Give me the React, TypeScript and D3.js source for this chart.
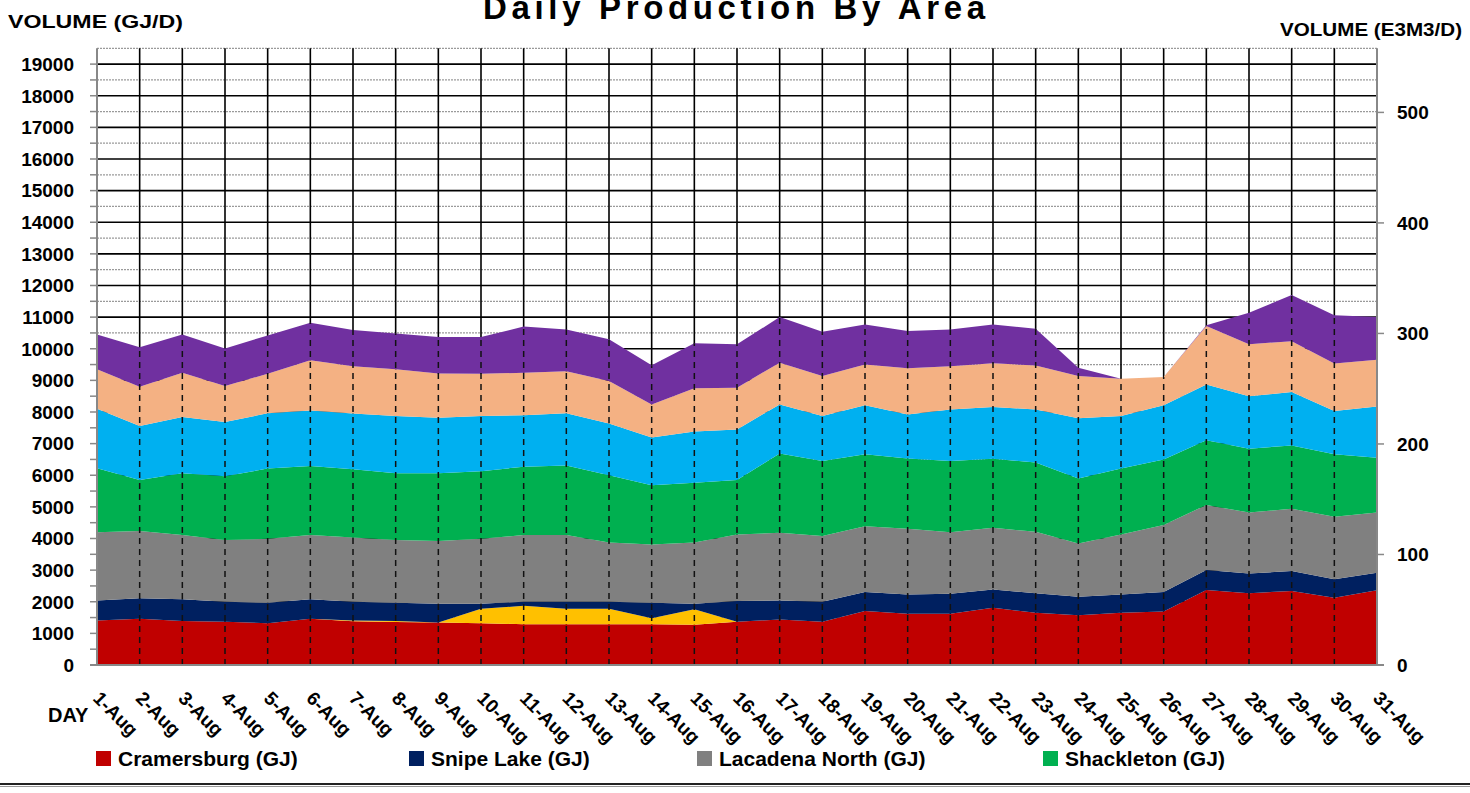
import React from 'react';
import * as d3 from 'd3';

const dayLabels = ['1-Aug','2-Aug','3-Aug','4-Aug','5-Aug','6-Aug','7-Aug','8-Aug','9-Aug','10-Aug','11-Aug','12-Aug','13-Aug','14-Aug','15-Aug','16-Aug','17-Aug','18-Aug','19-Aug','20-Aug','21-Aug','22-Aug','23-Aug','24-Aug','25-Aug','26-Aug','27-Aug','28-Aug','29-Aug','30-Aug','31-Aug'];

const cramersburg = [1410,1460,1390,1370,1320,1460,1380,1360,1340,1320,1290,1290,1290,1290,1270,1370,1440,1370,1710,1620,1620,1810,1650,1570,1650,1690,2370,2270,2340,2130,2360];
const otherYellow = [0,0,0,0,0,0,30,30,0,460,580,490,490,190,490,0,0,0,0,0,0,0,0,0,0,0,0,0,0,0,0];
const snipeLake = [630,650,690,630,650,620,590,580,600,160,130,220,220,490,180,650,600,630,600,610,630,580,620,590,580,620,630,620,630,580,560];
const lacadenaNorth = [2160,2130,2030,1950,2020,2030,2030,1980,1980,2050,2110,2110,1870,1840,1930,2110,2140,2080,2080,2080,1950,1950,1940,1680,1900,2120,2060,1930,1970,1980,1900];
const shackleton = [2020,1610,1950,2020,2220,2180,2160,2110,2140,2140,2160,2200,2130,1870,1890,1720,2510,2370,2270,2220,2250,2180,2190,2060,2080,2070,2050,2020,2000,1970,1730];
const otherBlue = [1880,1710,1780,1710,1750,1760,1760,1810,1760,1740,1630,1650,1640,1510,1620,1600,1550,1420,1550,1390,1630,1640,1680,1900,1660,1710,1760,1660,1690,1370,1620];
const otherPeach = [1250,1240,1400,1140,1250,1590,1500,1480,1400,1340,1340,1330,1340,1050,1370,1320,1320,1270,1290,1460,1370,1380,1390,1340,1180,900,1850,1640,1610,1500,1480];
const otherPurple = [1100,1250,1210,1190,1210,1180,1140,1130,1150,1160,1460,1320,1320,1240,1420,1370,1440,1400,1270,1180,1160,1230,1160,260,0,0,20,1000,1460,1530,1350];

const leftTicks = [0,1000,2000,3000,4000,5000,6000,7000,8000,9000,10000,11000,12000,13000,14000,15000,16000,17000,18000,19000];
const rightTicks = [0,100,200,300,400,500];

const seriesKeys = ['cramersburg','otherYellow','snipeLake','lacadenaNorth','shackleton','otherBlue','otherPeach','otherPurple'];
const seriesColors: Record<string,string> = {
  cramersburg: '#C00000',
  otherYellow: '#FFC000',
  snipeLake: '#002060',
  lacadenaNorth: '#808080',
  shackleton: '#00B050',
  otherBlue: '#00B0F0',
  otherPeach: '#F4B183',
  otherPurple: '#7030A0',
};
const legendItems = [
  { key: 'cramersburg', label: 'Cramersburg (GJ)' },
  { key: 'snipeLake', label: 'Snipe Lake (GJ)' },
  { key: 'lacadenaNorth', label: 'Lacadena North (GJ)' },
  { key: 'shackleton', label: 'Shackleton (GJ)' },
];

const FONT = '"Liberation Sans", Arial, sans-serif';

export default function App() {
  const W = 1470, H = 793;
  const left = 97, right = 1377, bottom = 665, top = 48.3;
  const x = d3.scalePoint<string>().domain(dayLabels).range([left, right]);
  const y = d3.scaleLinear().domain([0, 19500]).range([bottom, top]);
  const yR = d3.scaleLinear().domain([0, 558]).range([bottom, top]);

  const rows = dayLabels.map((d, i) => ({
    day: d,
    cramersburg: cramersburg[i],
    otherYellow: otherYellow[i],
    snipeLake: snipeLake[i],
    lacadenaNorth: lacadenaNorth[i],
    shackleton: shackleton[i],
    otherBlue: otherBlue[i],
    otherPeach: otherPeach[i],
    otherPurple: otherPurple[i],
  }));
  const stacked = d3.stack<any>().keys(seriesKeys)(rows);
  const area = d3.area<any>()
    .x((d: any) => x(d.data.day) as number)
    .y0((d: any) => y(d[0]))
    .y1((d: any) => y(d[1]));
  const topLayer = stacked[stacked.length - 1];

  const minorTicks = leftTicks.map((t) => t + 500);

  const legendX = [96, 409, 697, 1043];

  return (
    <svg width={W} height={H} style={{ position: 'absolute', left: 0, top: 0, background: '#fff' }}>
      <rect x={0} y={0} width={W} height={H} fill="#fff" />
      {/* minor gridlines */}
      {minorTicks.map((t) => (
        <line key={'mn' + t} x1={left} x2={right} y1={y(t)} y2={y(t)} stroke="#9a9a9a" strokeWidth={1.2} strokeDasharray="2,1" />
      ))}
      {/* major gridlines */}
      {leftTicks.filter((t) => t > 0).map((t) => (
        <line key={'mj' + t} x1={left} x2={right} y1={y(t)} y2={y(t)} stroke="#000" strokeWidth={1.6} />
      ))}
      {/* vertical solid lines */}
      {dayLabels.slice(1, -1).map((d) => (
        <line key={'vs' + d} x1={x(d)} x2={x(d)} y1={top} y2={bottom} stroke="#000" strokeWidth={1.6} />
      ))}
      {/* areas */}
      {stacked.map((s) => (
        <path key={s.key} d={area(s) || ''} fill={seriesColors[s.key]} stroke="none" />
      ))}
      {/* dashed lines over areas */}
      {topLayer.map((p: any) => {
        const d = p.data.day;
        if (d === dayLabels[0] || d === dayLabels[dayLabels.length - 1]) return null;
        return (
          <line key={'vd' + d} x1={x(d)} x2={x(d)} y1={bottom} y2={y(p[1])} stroke="#111" strokeWidth={1.5} strokeDasharray="6,5" />
        );
      })}
      {/* frame */}
      <line x1={left} x2={left} y1={top} y2={bottom} stroke="#888" strokeWidth={2} />
      <line x1={right} x2={right} y1={top} y2={bottom} stroke="#888" strokeWidth={2} />
      <line x1={left - 7} x2={right + 7} y1={bottom} y2={bottom} stroke="#888" strokeWidth={2} />
      {/* left ticks */}
      {[...leftTicks, ...minorTicks.slice(0, -1)].map((t) => (
        <line key={'lt' + t} x1={left - 7} x2={left} y1={y(t)} y2={y(t)} stroke="#888" strokeWidth={1.5} />
      ))}
      {leftTicks.map((t) => (
        <text key={'ll' + t} x={74} y={y(t)} dy="0.36em" textAnchor="end" fontFamily={FONT} fontWeight="bold" fontSize={19} fill="#000">{t}</text>
      ))}
      {/* right ticks */}
      {rightTicks.map((t) => (
        <g key={'rt' + t}>
          <line x1={right} x2={right + 7} y1={yR(t)} y2={yR(t)} stroke="#888" strokeWidth={1.5} />
          <text x={1397} y={yR(t)} dy="0.36em" textAnchor="start" fontFamily={FONT} fontWeight="bold" fontSize={19} fill="#000">{t}</text>
        </g>
      ))}
      {/* x labels */}
      {dayLabels.map((d) => {
        const px = (x(d) as number) - 5;
        const py = 699.5;
        return (
          <text key={'xl' + d} x={px} y={py} transform={`rotate(45 ${px} ${py})`} fontFamily={FONT} fontWeight="bold" fontSize={19} fill="#000">{d}</text>
        );
      })}
      <text x={48} y={722} fontFamily={FONT} fontWeight="bold" fontSize={20} fill="#000">DAY</text>
      {/* titles */}
      <text x={483} y={19} textLength={502} lengthAdjust="spacing" fontFamily={FONT} fontWeight="bold" fontSize={33} fill="#000">Daily Production By Area</text>
      <text x={8} y={28} textLength={175} lengthAdjust="spacingAndGlyphs" fontFamily={FONT} fontWeight="bold" fontSize={19} fill="#000">VOLUME (GJ/D)</text>
      <text x={1280} y={36} textLength={182} lengthAdjust="spacingAndGlyphs" fontFamily={FONT} fontWeight="bold" fontSize={19} fill="#000">VOLUME (E3M3/D)</text>
      {/* legend */}
      {legendItems.map((it, i) => (
        <g key={'lg' + it.key}>
          <rect x={legendX[i]} y={751} width={15} height={15} fill={seriesColors[it.key]} />
          <text x={legendX[i] + 22} y={766} fontFamily={FONT} fontWeight="bold" fontSize={21} fill="#000">{it.label}</text>
        </g>
      ))}
      {/* bottom rule */}
      <line x1={0} x2={W} y1={784} y2={784} stroke="#222" strokeWidth={2} />
      <line x1={0} x2={W} y1={786.5} y2={786.5} stroke="#999" strokeWidth={1} />
    </svg>
  );
}
